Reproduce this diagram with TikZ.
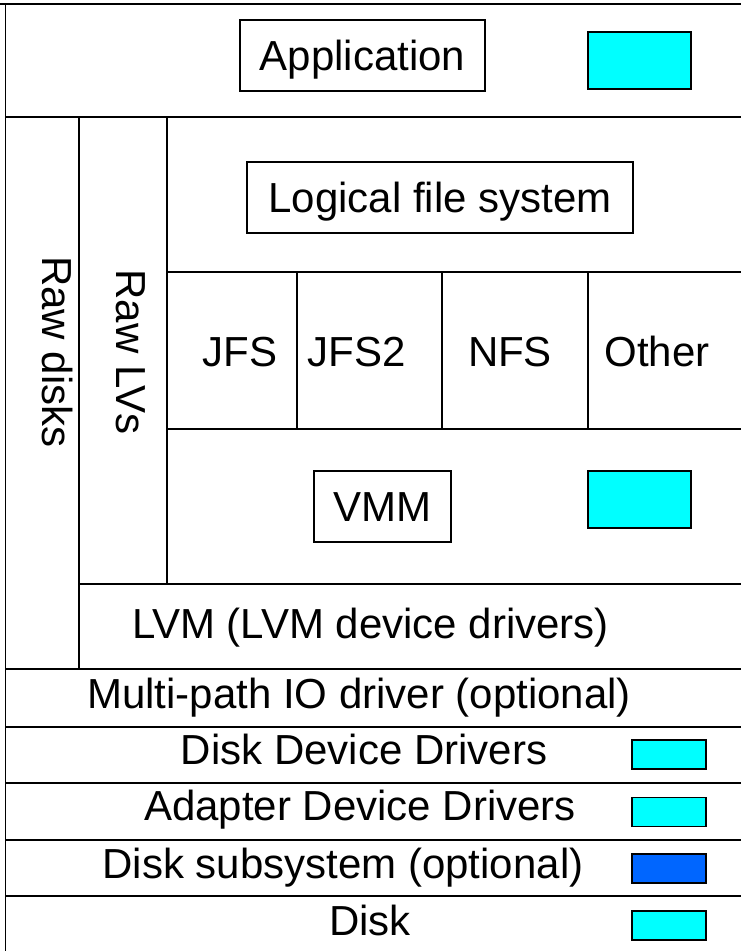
\documentclass[tikz,border=0pt]{standalone}
\usepackage{fontspec}
\setmainfont{Liberation Sans}
\definecolor{aqua}{RGB}{0,255,255}
\definecolor{dblue}{RGB}{0,102,255}
\begin{document}
\begin{tikzpicture}[x=1pt,y=-1pt,line width=1.6pt,
  lbl/.style={font=\fontsize{42}{50}\selectfont, inner sep=0pt},
  boxed/.style={draw, line width=1.5pt, font=\fontsize{42}{50}\selectfont, text height=30pt, text depth=0pt, inner sep=0pt},
  swatch/.style={draw, line width=1.6pt, fill=aqua, inner sep=0pt},
  smallsw/.style={swatch, minimum width=74pt, minimum height=29pt}]
\useasboundingbox (0,0) rectangle (740,951);
% outer frame (right and bottom edges fall outside the picture)
\draw (5.5,4) -- (5.5,960);
\draw (0,4) -- (750,4);
% horizontal rules
\draw (5.5,117) -- (750,117);
\draw (167,272) -- (750,272);
\draw (167,429) -- (750,429);
\draw (79,584) -- (750,584);
\draw (5.5,669) -- (750,669);
\draw (5.5,727) -- (750,727);
\draw (5.5,783) -- (750,783);
\draw (5.5,840) -- (750,840);
\draw (5.5,896) -- (750,896);
% vertical rules
\draw (79,117) -- (79,669);
\draw (167,117) -- (167,584);
\draw (297,272) -- (297,429);
\draw (442,272) -- (442,429);
\draw (588,272) -- (588,429);
% top layer
\node[boxed, minimum width=245pt, minimum height=71pt] (app) at (362.5,55.5) {Application};
\node[swatch, minimum width=103pt, minimum height=57pt] (appsw) at (639.5,60.5) {};
% logical file system
\node[boxed, minimum width=386pt, minimum height=71pt] (lfs) at (440,197.5) {Logical file system};
% file systems
\node[lbl, anchor=base] (jfs) at (240,366.5) {JFS};
\node[lbl, anchor=base] (jfs2) at (357,366.5) {JFS2};
\node[lbl, anchor=base] (nfs) at (510,366.5) {NFS};
\node[lbl, anchor=base] (other) at (657,366.5) {Other};
% VMM
\node[boxed, minimum width=137pt, minimum height=71pt] (vmm) at (382.5,506.5) {VMM};
\node[swatch, minimum width=103pt, minimum height=57pt] (vmmsw) at (639.5,499.5) {};
% raw columns
\node[lbl, rotate=-90, anchor=base] (rawdisks) at (42,352) {Raw disks};
\node[lbl, rotate=-90, anchor=base] (rawlvs) at (116,352) {Raw LVs};
% LVM
\node[lbl, anchor=base] (lvm) at (370.5,638) {LVM (LVM device drivers)};
% lower layers
\node[lbl, anchor=base] (mpio) at (359,708) {Multi-path IO driver (optional)};
\node[lbl, anchor=base] (ddd) at (364,764) {Disk Device Drivers};
\node[smallsw] (dddsw) at (669,754.5) {};
\node[lbl, anchor=base] (add) at (360,820.5) {Adapter Device Drivers};
\node[smallsw] (addsw) at (669,812) {};
\node[lbl, anchor=base] (dss) at (343,878) {Disk subsystem (optional)};
\node[smallsw, fill=dblue] (dsssw) at (669,868.5) {};
\node[lbl, anchor=base] (disk) at (370,935) {Disk};
\node[smallsw] (disksw) at (669,925.5) {};
\end{tikzpicture}
\end{document}
